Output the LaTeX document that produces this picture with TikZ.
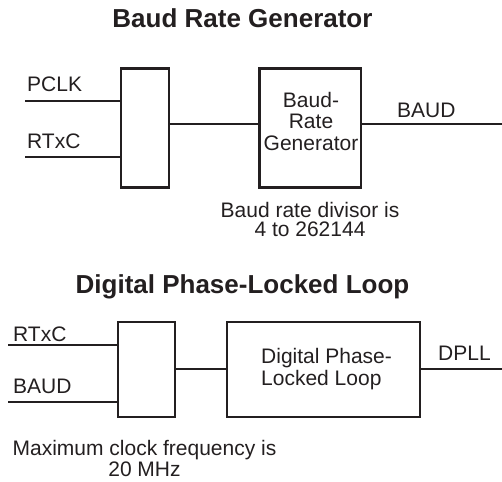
\documentclass[tikz,border=0pt]{standalone}
\usepackage{fontspec}
\setmainfont{Liberation Sans}
\definecolor{ink}{HTML}{231F20}
\begin{document}
\begin{tikzpicture}[x=1pt,y=-1pt,
  box/.style={draw=ink,line width=2.2pt},
  wire/.style={draw=ink,line width=1.2pt},
  lbl/.style={text=ink,font=\fontsize{21}{23}\selectfont,inner sep=0pt},
  ttl/.style={text=ink,font=\fontsize{26}{28}\selectfont\bfseries,inner sep=0pt}]
\useasboundingbox (0,0) rectangle (502,481);
% ---- Baud Rate Generator ----
\node[ttl,anchor=base] (t1) at (242.5,28) {Baud Rate Generator};
\draw[box] (121,68.5) rectangle (169,187.5);
\draw[box] (259.5,68.5) rectangle (361,187.5);
\node[lbl,anchor=base] (brg1) at (311,107.5) {Baud-};
\node[lbl,anchor=base] (brg2) at (311,128.5) {Rate};
\node[lbl,anchor=base] (brg3) at (311,150.5) {Generator};
\coordinate (p1a) at (25,101); \coordinate (p1b) at (121,101);
\coordinate (r1a) at (25,157); \coordinate (r1b) at (121,157);
\coordinate (c1a) at (169,124); \coordinate (c1b) at (259.5,124);
\coordinate (o1a) at (361,124); \coordinate (o1b) at (502,124);
\draw[wire] (p1a) -- (p1b);
\draw[wire] (r1a) -- (r1b);
\draw[wire] (c1a) -- (c1b);
\draw[wire] (o1a) -- (o1b);
\node[lbl,anchor=base west] (pclk) at (27,92) {PCLK};
\node[lbl,anchor=base west] (rtxc1) at (27,148) {RTxC};
\node[lbl,anchor=base west] (baud1) at (397,118) {BAUD};
\node[lbl,anchor=base] (d1) at (310,217) {Baud rate divisor is};
\node[lbl,anchor=base] (d2) at (310,236) {4 to 262144};
% ---- Digital Phase-Locked Loop ----
\node[ttl,anchor=base] (t2) at (242.5,293) {Digital Phase-Locked Loop};
\draw[box] (118,322) rectangle (175,417);
\draw[box] (227,322) rectangle (420,417);
\node[lbl,anchor=base west] (dp1) at (261,363) {Digital Phase-};
\node[lbl,anchor=base west] (dp2) at (261,385) {Locked Loop};
\coordinate (r2a) at (8,345); \coordinate (r2b) at (118,345);
\coordinate (b2a) at (8,402); \coordinate (b2b) at (118,402);
\coordinate (c2a) at (175,369); \coordinate (c2b) at (227,369);
\coordinate (o2a) at (420,369); \coordinate (o2b) at (502,369);
\draw[wire] (r2a) -- (r2b);
\draw[wire] (b2a) -- (b2b);
\draw[wire] (c2a) -- (c2b);
\draw[wire] (o2a) -- (o2b);
\node[lbl,anchor=base west] (rtxc2) at (13,341) {RTxC};
\node[lbl,anchor=base west] (baud2) at (13,393) {BAUD};
\node[lbl,anchor=base west] (dpll) at (438,360) {DPLL};
\node[lbl,anchor=base] (f1) at (144.5,455) {Maximum clock frequency is};
\node[lbl,anchor=base] (f2) at (144.5,476) {20 MHz};
\end{tikzpicture}
\end{document}
